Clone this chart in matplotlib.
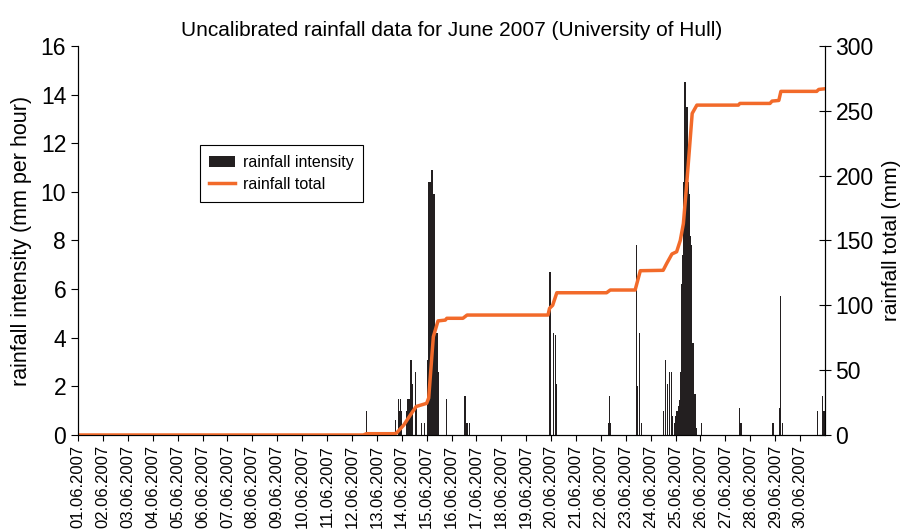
import matplotlib
matplotlib.use("Agg")
import matplotlib.pyplot as plt

plt.rcParams['font.family'] = ['Liberation Sans', 'DejaVu Sans']

# hours counted from 01.06.2007 00:00, intensity in mm per hour
bar_hours = [278, 306, 309, 310, 311, 312, 317, 318, 319, 321, 322, 325, 326,
             331, 334, 337, 338, 339, 340, 341, 342, 343, 344, 345, 346, 347,
             355, 373, 375, 377,
             455, 458, 460, 461,
             511, 512, 513,
             538, 539, 541, 543,
             564, 566, 568, 570, 572, 573, 575, 576, 577, 578, 579, 580, 581,
             582, 583, 584, 585, 586, 587, 588, 589, 590, 591, 592, 593, 594,
             595, 596, 601,
             638, 639, 669, 670, 676, 677, 679, 713, 718, 719]
bar_values = [1.0, 0.6, 1.5, 1.0, 1.5, 1.0, 1.0, 1.5, 1.5, 3.1, 2.1, 2.6, 1.1,
              0.5, 0.5, 3.1, 10.4, 10.4, 10.4, 10.9, 10.9, 9.9, 9.9, 4.2, 4.2, 2.6,
              1.5, 1.6, 0.5, 0.5,
              6.7, 4.2, 4.1, 2.1,
              0.5, 1.6, 0.5,
              7.8, 2.0, 4.2, 0.5,
              1.0, 3.1, 2.1, 2.6, 2.6, 0.8, 0.5, 0.8, 1.0, 1.0, 1.2, 1.45, 2.6,
              6.2, 7.4, 10.4, 14.5, 13.5, 13.5, 10.4, 9.9, 8.2, 7.8, 3.8, 3.8, 1.7,
              1.7, 0.3, 0.5,
              1.1, 0.5, 0.5, 0.5, 1.1, 5.7, 0.5, 1.0, 1.6, 1.0]

# cumulative rainfall total (mm)
line_hours = [0, 275, 278, 305, 307, 314, 320, 326, 336, 338, 342.5, 347, 354,
              355.5, 371, 375, 453, 454.5, 457.5, 461.5, 509.5, 513, 537, 542,
              564, 567.5, 572.5, 577, 580.5, 583.5, 586.5, 590, 592, 596.5,
              636.5, 638, 667, 669, 675.5, 677.5, 712, 714, 720]
line_total = [0, 0, 1, 1, 1.5, 7.7, 15, 22, 24.4, 28.5, 75.8, 88, 88.6,
              90, 90, 92.5, 92.5, 97.7, 100, 109.7, 109.7, 111.8, 111.8, 126.7,
              127, 132.4, 139.6, 141.3, 150, 163, 191.4, 227.4, 248, 254.4,
              254.4, 255.7, 255.7, 257.5, 258, 265, 265, 266.5, 267]

day_ticks = list(range(0, 720, 24))
day_labels = ["%02d.06.2007" % (d + 1) for d in range(30)]

fig = plt.figure(figsize=(9.04, 5.31), dpi=100)
ax = fig.add_axes([0.0863, 0.1808, 0.8263, 0.7326])

bars = ax.bar(bar_hours, bar_values, width=1.1, color='#231f20',
              align='center', label='rainfall intensity')
ax.set_xlim(0, 720)
ax.set_ylim(0, 16)
ax.set_yticks(range(0, 17, 2))
ax.set_xticks(day_ticks)
ax.set_xticklabels(day_labels, rotation=90, fontsize=12)
ax.tick_params(axis='y', labelsize=16.5, direction='out', length=5)
ax.tick_params(axis='x', direction='out', length=4, pad=3)
ax.set_ylabel('rainfall intensity (mm per hour)', fontsize=15.5, labelpad=6)
ax.spines['top'].set_visible(False)

ax2 = ax.twinx()
line, = ax2.plot(line_hours, line_total, color='#f26a2a', lw=2.5,
                 label='rainfall total')
ax2.set_ylim(0, 300)
ax2.set_yticks(range(0, 301, 50))
ax2.tick_params(axis='y', labelsize=16.5, direction='inout', length=8)
ax2.set_ylabel('rainfall total (mm)', fontsize=15, labelpad=6)
ax2.spines['top'].set_visible(False)

leg = ax.legend([bars, line], ['rainfall intensity', 'rainfall total'],
                loc='upper left', bbox_to_anchor=(0.163, 0.745),
                fontsize=11.5, fancybox=False, edgecolor='black',
                framealpha=1, borderpad=0.6, handlelength=1.6,
                labelspacing=0.45, borderaxespad=0, handletextpad=0.5)
leg.get_frame().set_linewidth(0.8)

ax.set_title('Uncalibrated rainfall data for June 2007 (University of Hull)',
             fontsize=15, pad=7)

fig.savefig('out.png', dpi=100)
